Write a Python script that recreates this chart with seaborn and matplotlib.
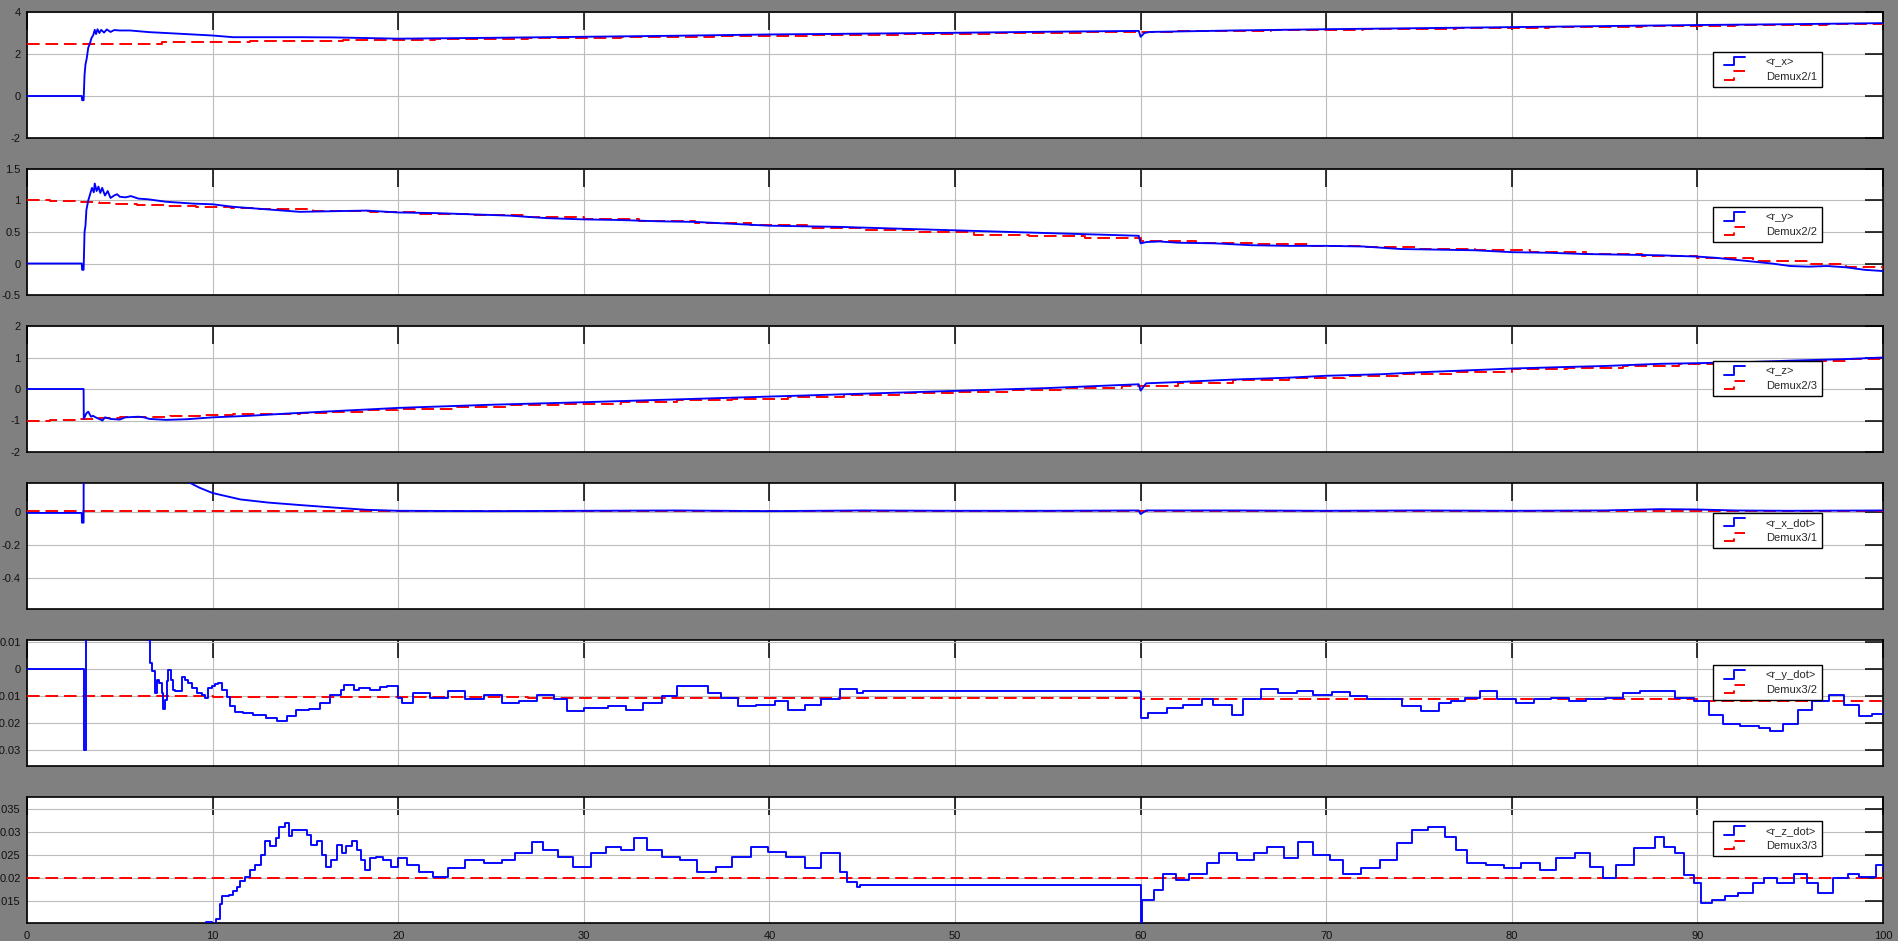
import numpy as np
import pandas as pd
import matplotlib
matplotlib.use("Agg")
import matplotlib.pyplot as plt
import seaborn as sns
from matplotlib.lines import Line2D
from matplotlib.legend_handler import HandlerBase

# ---------------- data ----------------
x_ticks = [0, 10, 20, 30, 40, 50, 60, 70, 80, 90, 100]
x_ticklabels = ["0", "10", "20", "30", "40", "50", "60", "70", "80", "90", "100"]

series_labels = [("<r_x>", "Demux2/1"), ("<r_y>", "Demux2/2"), ("<r_z>", "Demux2/3"),
                 ("<r_x_dot>", "Demux3/1"), ("<r_y_dot>", "Demux3/2"), ("<r_z_dot>", "Demux3/3")]

# panel 1: r_x
rx_t = [0, 2.95, 2.97, 3.05, 3.1, 3.15, 3.22, 3.3, 3.39, 3.47, 3.57, 3.65, 3.72, 3.8, 3.9, 4.0, 4.15,
        4.3, 4.5, 4.7, 5.0, 5.55, 6.6, 7.9, 10.0, 11.1, 14.7, 16.5, 20, 25, 30, 35, 40, 45, 50, 55,
        59.9, 60.0, 60.2, 60.5, 65, 70, 75, 80, 85, 90, 95, 100]
rx_v = [0, 0, -0.2, -0.2, 1.0, 1.5, 1.8, 2.3, 2.5, 2.75, 2.9, 3.15, 2.95, 3.18, 3.0, 3.15, 3.02,
        3.17, 3.05, 3.14, 3.12, 3.12, 3.04, 2.98, 2.88, 2.8, 2.8, 2.79, 2.73, 2.77, 2.82, 2.87, 2.93, 2.97, 3.01, 3.06,
        3.1, 2.82, 3.0, 3.05, 3.12, 3.18, 3.23, 3.28, 3.33, 3.38, 3.42, 3.47]
rx_ref_t = [0, 7.26, 12.0, 17, 22, 27, 32, 37, 42, 47, 52, 57, 62, 67, 72, 77, 82, 87, 92, 97, 100]
rx_ref_v = [2.48, 2.56, 2.64, 2.68, 2.72, 2.76, 2.81, 2.86, 2.91, 2.96, 3.0, 3.05, 3.1, 3.15, 3.2,
            3.25, 3.3, 3.35, 3.39, 3.44, 3.46]

# panel 2: r_y
ry_t = [0, 2.95, 2.97, 3.05, 3.1, 3.15, 3.2, 3.3, 3.4, 3.5, 3.6, 3.65, 3.75, 3.85, 3.95, 4.05, 4.2,
        4.35, 4.5, 4.7, 4.85, 5.0, 5.3, 5.6, 6.0, 6.5, 7.0, 7.5, 8.0, 9.0, 10.0, 11.1, 12.9, 14.7,
        16.5, 18.3, 20, 22, 24, 26, 28, 30, 32, 34, 36, 38, 40, 42, 44, 45, 59.9, 60.0, 60.3, 61, 62,
        64, 66, 68, 70, 72, 74, 76, 78, 80, 82, 84, 86, 88, 90, 91, 92, 93, 94, 95, 96, 97, 98, 99, 100]
ry_v = [0, 0, -0.1, -0.1, 0.5, 0.6, 0.85, 1.0, 1.1, 1.2, 1.13, 1.27, 1.15, 1.22, 1.12, 1.2, 1.08,
        1.15, 1.04, 1.08, 1.1, 1.06, 1.05, 1.07, 1.03, 1.02, 1.0, 0.98, 0.97, 0.95, 0.94, 0.9, 0.86, 0.82,
        0.83, 0.84, 0.81, 0.80, 0.78, 0.76, 0.72, 0.70, 0.69, 0.67, 0.66, 0.63, 0.60, 0.59, 0.58, 0.57,
        0.44, 0.32, 0.34, 0.35, 0.33, 0.32, 0.29, 0.28, 0.28, 0.27, 0.23, 0.22, 0.21, 0.18, 0.17, 0.15,
        0.14, 0.13, 0.11, 0.09, 0.06, 0.03, 0.0, -0.04, -0.05, -0.04, -0.06, -0.1, -0.12]
ry_ref_t = [0, 1.24, 2.6, 3.9, 4.5, 5.9, 7.5, 9.1, 11, 12.5, 15.4, 16.5, 18.5, 21, 24, 27, 30, 33, 36,
            39, 42, 45, 48, 51, 54, 57, 60, 63, 66, 69, 72, 75, 78, 81, 84, 87, 90, 93, 96, 98, 100]
ry_ref_v = [1.0, 0.99, 0.97, 0.96, 0.95, 0.93, 0.92, 0.9, 0.88, 0.86, 0.84, 0.83, 0.81, 0.79, 0.77,
            0.74, 0.71, 0.68, 0.65, 0.61, 0.57, 0.53, 0.5, 0.46, 0.43, 0.4, 0.36, 0.33, 0.31, 0.28,
            0.26, 0.23, 0.21, 0.18, 0.15, 0.12, 0.08, 0.04, 0.0, -0.05, -0.09]

# panel 3: r_z
rz_t = [0, 3.05, 3.06, 3.2, 3.3, 3.45, 3.55, 3.7, 4.07, 4.2, 4.5, 5.0, 5.3, 6.0, 6.3, 6.6, 7.5, 8.6,
        10, 12, 14, 16, 18, 20, 25, 30, 35, 40, 45, 50, 55, 59.9, 60, 60.3, 62, 65, 68, 70, 73, 75,
        78, 80, 83, 85, 88, 90, 93, 95, 98, 100]
rz_v = [0, 0, -0.95, -0.77, -0.72, -0.88, -0.85, -0.9, -1.0, -0.9, -0.95, -0.97, -0.9, -0.88, -0.9,
        -0.95, -0.98, -0.96, -0.9, -0.85, -0.78, -0.72, -0.66, -0.6, -0.5, -0.42, -0.33, -0.24,
        -0.15, -0.06, 0.03, 0.15, -0.05, 0.18, 0.22, 0.3, 0.36, 0.42, 0.47, 0.53, 0.6, 0.65, 0.7,
        0.73, 0.8, 0.82, 0.86, 0.9, 0.95, 1.0]
rz_ref_t = [0, 1.24, 2.7, 3.9, 5, 6.3, 7.7, 9.3, 11.1, 12.9, 14.7, 16.5, 18.3, 20, 23, 26, 29, 32,
            35, 38, 41, 44, 47, 50, 53, 56, 59, 62, 65, 68, 71, 74, 77, 80, 83, 86, 89, 92, 95, 98, 100]
rz_ref_v = [-1.0, -0.98, -0.95, -0.93, -0.9, -0.88, -0.85, -0.83, -0.8, -0.78, -0.75, -0.72, -0.68,
            -0.62, -0.57, -0.52, -0.47, -0.42, -0.36, -0.31, -0.26, -0.2, -0.14, -0.08, -0.03, 0.03,
            0.1, 0.2, 0.27, 0.34, 0.41, 0.48, 0.55, 0.62, 0.68, 0.74, 0.8, 0.85, 0.9, 0.95, 0.99]

# panel 4: r_x_dot
rxd_t = [0, 2.95, 2.96, 3.05, 3.06, 3.2, 5, 7, 8.8, 9.3, 10, 11.5, 13, 14.7, 16.5, 18.3, 20, 25, 30,
         35, 40, 45, 50, 55, 59.9, 60, 60.3, 65, 70, 75, 80, 85, 88, 90, 92, 95, 100]
rxd_v = [-0.003, -0.003, -0.062, -0.062, 0.8, 0.6, 0.4, 0.25, 0.179, 0.15, 0.118, 0.079, 0.06,
         0.045, 0.03, 0.016, 0.01, 0.008, 0.01, 0.012, 0.008, 0.012, 0.01, 0.01, 0.012, -0.01, 0.012,
         0.012, 0.01, 0.012, 0.01, 0.012, 0.02, 0.018, 0.012, 0.01, 0.012]
rxd_ref_t = [0, 100]
rxd_ref_v = [0.006, 0.006]

# panel 5: r_y_dot
ryd_t = [0, 3.05, 3.06, 3.15, 3.16, 6.45, 6.54, 6.63, 6.74, 6.85, 6.92, 7.0, 7.13, 7.25, 7.34, 7.43,
         7.52, 7.62, 7.74, 7.85, 7.97, 8.16, 8.33, 8.5, 8.69, 8.87, 9.14, 9.41, 9.59, 9.77, 9.95,
         10.13, 10.3, 10.5, 10.76, 10.95, 11.2, 11.65, 12.2, 12.9, 13.45, 13.99, 14.5, 15.2, 15.8,
         16.3, 16.9, 17.1, 17.6, 17.9, 18.5, 19.0, 19.4, 20.0, 20.2, 20.8, 21.7, 22.7, 23.6, 24.6,
         25.6, 26.5, 27.5, 28.4, 29.1, 30.0, 31.3, 32.3, 33.2, 34.2, 35.0, 35.8, 36.7, 37.4, 38.3,
         39.3, 40.3, 41.0, 41.9, 42.8, 43.8, 44.7, 45.06, 59.95, 60.0, 60.4, 61.4, 62.3, 63.3, 63.9,
         64.9, 65.5, 66.5, 67.4, 68.4, 69.3, 70.3, 71.3, 72.2, 73.2, 74.1, 75.1, 76.1, 76.7, 77.5,
         78.3, 79.2, 80.2, 81.2, 82.1, 83.1, 84.0, 85.0, 86.0, 86.9, 87.9, 88.8, 89.8, 90.6, 91.4,
         92.3, 93.3, 93.9, 94.6, 95.4, 96.2, 97.1, 97.9, 98.7, 99.4, 100]
ryd_v = [0, 0, -0.0298, -0.0298, 0.05, 0.05, 0.0106, 0.0022, -0.0009, -0.0009, -0.0091, -0.0042,
         -0.0052, -0.009, -0.0148, -0.0114, -0.0046, -0.0005, -0.004, -0.0079, -0.0083, -0.0083,
         -0.003, -0.004, -0.0052, -0.007, -0.0091, -0.0095, -0.0107, -0.007, -0.0064, -0.0056,
         -0.0052, -0.0077, -0.0104, -0.0138, -0.016, -0.0163, -0.0169, -0.0181, -0.0194, -0.0175,
         -0.015, -0.0148, -0.0126, -0.0095, -0.0077, -0.0058, -0.0077, -0.007, -0.0077, -0.0067,
         -0.0064, -0.0107, -0.0125, -0.0089, -0.0107, -0.0082, -0.0113, -0.0095, -0.0125, -0.0119,
         -0.0095, -0.0113, -0.0156, -0.0144, -0.0138, -0.015, -0.0125, -0.0101, -0.0064, -0.0064,
         -0.0089, -0.0107, -0.0138, -0.0132, -0.0119, -0.015, -0.0132, -0.0113, -0.0076, -0.0089,
         -0.0082, -0.0086, -0.0181, -0.0162, -0.0144, -0.0132, -0.0113, -0.0132, -0.0169, -0.0113,
         -0.0073, -0.0089, -0.008, -0.0097, -0.0085, -0.0101, -0.0113, -0.0113, -0.0138, -0.0156,
         -0.0125, -0.0119, -0.0107, -0.008, -0.0113, -0.0125, -0.0113, -0.0107, -0.0119, -0.0113,
         -0.0107, -0.0089, -0.0082, -0.0082, -0.0107, -0.0119, -0.0169, -0.0205, -0.0212, -0.0218,
         -0.023, -0.0205, -0.015, -0.0119, -0.0097, -0.0132, -0.0175, -0.0165, -0.015]
ryd_ref_t = [0, 10, 27, 45, 60, 90, 100]
ryd_ref_v = [-0.0100, -0.0103, -0.0108, -0.0106, -0.0113, -0.0119, -0.0121]

# panel 6: r_z_dot
rzd_t = [0, 9.6, 9.65, 9.9, 9.95, 10.15, 10.2, 10.4, 10.5, 10.9, 11.1, 11.3, 11.5, 11.75, 12.0, 12.3,
         12.6, 12.8, 13.1, 13.4, 13.6, 13.9, 14.1, 14.3, 14.8, 15.1, 15.3, 15.6, 15.9, 16.1, 16.4,
         16.7, 16.95, 17.2, 17.5, 17.8, 18.0, 18.2, 18.5, 18.8, 19.2, 19.6, 20.0, 20.5, 21.1, 21.9,
         22.7, 23.6, 24.6, 25.6, 26.3, 27.2, 27.8, 28.6, 29.4, 30.4, 31.2, 32.0, 32.7, 33.4, 34.2,
         35.2, 36.1, 37.1, 38.0, 39.0, 39.9, 40.9, 41.9, 42.8, 43.8, 44.2, 44.7, 44.9, 59.95, 60.0,
         60.1, 60.7, 61.2, 61.9, 62.6, 63.6, 64.2, 65.2, 66.1, 66.8, 67.7, 68.5, 69.3, 70.2, 70.9,
         71.9, 72.9, 73.8, 74.6, 75.5, 76.4, 77.0, 77.6, 78.6, 79.6, 80.5, 81.5, 82.4, 83.4, 84.2,
         84.9, 85.6, 86.6, 87.7, 88.2, 88.8, 89.3, 89.8, 90.2, 90.8, 91.5, 92.2, 93.0, 93.6, 94.3,
         95.2, 95.9, 96.5, 97.3, 98.1, 98.7, 99.6, 100]
rzd_v = [0, 0, 0.0103, 0.0103, 0.0, 0.0, 0.011, 0.0142, 0.016, 0.0163, 0.017, 0.018, 0.0192, 0.0202,
         0.0217, 0.0228, 0.025, 0.0279, 0.0268, 0.0286, 0.0311, 0.032, 0.029, 0.0304, 0.0304, 0.0293,
         0.0272, 0.0279, 0.025, 0.0224, 0.0239, 0.0272, 0.0254, 0.0268, 0.0279, 0.0261, 0.0239,
         0.0217, 0.0243, 0.0246, 0.0239, 0.0224, 0.0243, 0.0228, 0.0213, 0.0202, 0.022, 0.0238,
         0.0231, 0.0238, 0.0253, 0.0278, 0.026, 0.0246, 0.0224, 0.0253, 0.0267, 0.026, 0.0286, 0.026,
         0.0246, 0.0238, 0.0213, 0.0224, 0.0246, 0.0267, 0.0257, 0.0246, 0.022, 0.0253, 0.0213,
         0.0191, 0.018, 0.0185, 0.0185, 0.0, 0.0151, 0.0173, 0.0209, 0.0195, 0.0209, 0.0231, 0.0253,
         0.0238, 0.0253, 0.0267, 0.0242, 0.0278, 0.0249, 0.0238, 0.0209, 0.022, 0.0238, 0.0275,
         0.0304, 0.0311, 0.0289, 0.026, 0.0231, 0.0228, 0.022, 0.0231, 0.0217, 0.0242, 0.0253, 0.0224,
         0.0199, 0.0228, 0.0264, 0.0289, 0.0267, 0.0253, 0.0206, 0.0188, 0.0144, 0.0151, 0.0159,
         0.0166, 0.0188, 0.0199, 0.0188, 0.0209, 0.0188, 0.0166, 0.0199, 0.0209, 0.0202, 0.0228, 0.0215]
rzd_ref_t = [0, 100]
rzd_ref_v = [0.02, 0.02]

y_ticks = [[-2, 0, 2, 4], [-0.5, 0, 0.5, 1, 1.5], [-2, -1, 0, 1, 2], [-0.4, -0.2, 0],
           [-0.03, -0.02, -0.01, 0, 0.01], [0.015, 0.02, 0.025, 0.03, 0.035]]
y_ticklabels = [["-2", "0", "2", "4"], ["-0.5", "0", "0.5", "1", "1.5"], ["-2", "-1", "0", "1", "2"],
                ["-0.4", "-0.2", "0"], ["-0.03", "-0.02", "-0.01", "0", "0.01"],
                ["0.015", "0.02", "0.025", "0.03", "0.035"]]

# ---------------- style / layout ----------------
sns.set_style("white")
plt.rcParams["font.family"] = ["Liberation Sans", "DejaVu Sans"]

W, H = 1899, 941
fig = plt.figure(figsize=(W / 100, H / 100), dpi=100, facecolor="#808080")

y_limits = [(-2, 4), (-0.5, 1.5), (-2, 2), (-0.587, 0.179), (-0.0358, 0.0106), (0.0101, 0.0376)]
tops_px = [12, 169, 326, 483, 640, 797]
panel_h = 126
left_px, right_px = 27, 1883
legend_top_frac = [0.683, 0.698, 0.722, 0.762, 0.80, 0.806]
blue_steps = [False, False, False, False, True, True]

data = [(rx_t, rx_v, rx_ref_t, rx_ref_v), (ry_t, ry_v, ry_ref_t, ry_ref_v),
        (rz_t, rz_v, rz_ref_t, rz_ref_v), (rxd_t, rxd_v, rxd_ref_t, rxd_ref_v),
        (ryd_t, ryd_v, ryd_ref_t, ryd_ref_v), (rzd_t, rzd_v, rzd_ref_t, rzd_ref_v)]

FS = 8


class StepHandler(HandlerBase):
    def create_artists(self, legend, orig_handle, xdescent, ydescent, width, height, fontsize, trans):
        fx = np.array([0.2, 0.57, 0.57, 0.97])
        fy = np.array([0.0, 0.0, 1.0, 1.0])
        ln = Line2D(-xdescent + fx * width, -ydescent + fy * height)
        ln.update_from(orig_handle)
        ln.set_drawstyle("default")
        ln.set_transform(trans)
        return [ln]


for i, (t, v, rt, rv) in enumerate(data):
    top = tops_px[i]
    ax = fig.add_axes([left_px / W, 1 - (top + panel_h) / H, (right_px - left_px) / W, panel_h / H])
    ax.set_facecolor("white")
    lab_b, lab_r = series_labels[i]
    sns.lineplot(x=rt, y=rv, ax=ax, estimator=None, sort=False, color="#ff0000",
                 linewidth=1.4, linestyle=(0, (6.5, 3.0)), drawstyle="steps-post",
                 label=lab_r, zorder=3)
    sns.lineplot(x=t, y=v, ax=ax, estimator=None, sort=False, color="#0000ff",
                 linewidth=1.35, drawstyle="steps-post" if blue_steps[i] else "default",
                 label=lab_b, zorder=4)
    ax.set_xlim(0, 100)
    ax.set_ylim(*y_limits[i])
    ax.set_xticks(x_ticks)
    ax.set_yticks(y_ticks[i])
    ax.set_yticklabels(y_ticklabels[i])
    if i == 5:
        ax.set_xticklabels(x_ticklabels)
    else:
        ax.set_xticklabels([])
    ax.set_xlabel("")
    ax.set_ylabel("")
    ax.grid(True, color="#bcbcbc", linewidth=0.8, zorder=0)
    ax.set_axisbelow(True)
    for sp in ax.spines.values():
        sp.set_visible(True)
        sp.set_color("black")
        sp.set_linewidth(1.2)
    ax.tick_params(axis="both", which="major", direction="in", length=13, width=1.1,
                   color="black", top=True, right=True, labelsize=FS, labelcolor="#111111")
    ax.tick_params(axis="y", pad=4.5)
    ax.tick_params(axis="x", pad=6.0)

    h, l = ax.get_legend_handles_labels()
    order = [1, 0]
    leg = ax.legend([h[k] for k in order], [l[k] for k in order],
                    handler_map={Line2D: StepHandler()},
                    loc="upper left", bbox_to_anchor=(0.9084, legend_top_frac[i]),
                    borderaxespad=0, fontsize=FS, frameon=True, fancybox=False,
                    framealpha=1, edgecolor="black", borderpad=0.45, handlelength=2.5,
                    handleheight=0.8, handletextpad=1.8, labelspacing=0.4)
    leg.get_frame().set_linewidth(1.0)
    leg.set_zorder(10)

fig.savefig("out.png", dpi=100, facecolor=fig.get_facecolor())
